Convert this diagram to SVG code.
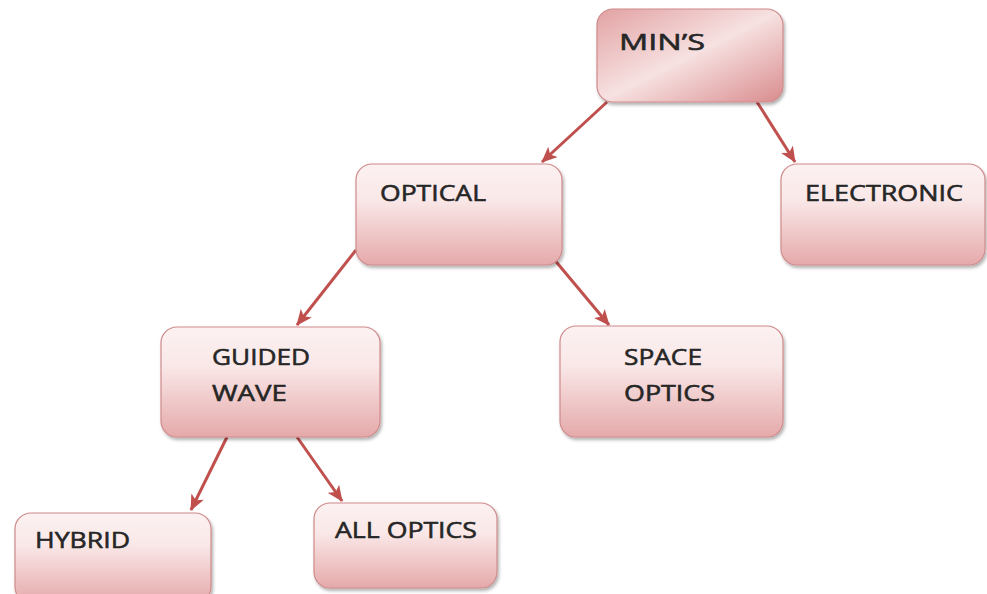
<svg xmlns="http://www.w3.org/2000/svg" width="987" height="594" viewBox="0 0 987 594">
  <style>
    .box { stroke: #cf8a8b; stroke-width: 1.2; fill: url(#boxFill); filter: url(#shadow); }
    .root { stroke: #cf8a8b; stroke-width: 1.2; fill: url(#rootFill); filter: url(#shadow); }
    .label { font-family: "Open Sans", "Liberation Sans", sans-serif; font-size: 22.5px; font-weight: 400; fill: #262626; stroke: #262626; stroke-width: 0.55; }
    .edge { stroke: #c0504d; stroke-width: 3; fill: none; marker-end: url(#arrow); }
  </style>
  <defs>
    <linearGradient id="boxFill" x1="0" y1="0" x2="0" y2="1">
      <stop offset="0" stop-color="#fcf1f1"/>
      <stop offset="0.35" stop-color="#fae8e8"/>
      <stop offset="1" stop-color="#e5a9aa"/>
    </linearGradient>
    <linearGradient id="rootFill" x1="0" y1="0" x2="1" y2="1">
      <stop offset="0" stop-color="#e2a2a3"/>
      <stop offset="0.5" stop-color="#f7e1e1"/>
      <stop offset="1" stop-color="#d98c8e"/>
    </linearGradient>
    <filter id="shadow" x="-10%" y="-10%" width="125%" height="130%">
      <feDropShadow dx="1.5" dy="2.5" stdDeviation="1.8" flood-color="#000" flood-opacity="0.3"/>
    </filter>
    <marker id="arrow" markerUnits="userSpaceOnUse" markerWidth="16" markerHeight="14" viewBox="0 0 16 14" refX="15" refY="7" orient="auto">
      <path d="M0,0 L16,7 L0,14 L4,7 Z" fill="#c0504d"/>
    </marker>
  </defs>

  <g id="connectors">
    <line class="edge" x1="607" y1="102" x2="542" y2="162"/>
    <line class="edge" x1="757" y1="102" x2="795" y2="162"/>
    <line class="edge" x1="356" y1="250" x2="297" y2="325"/>
    <line class="edge" x1="553" y1="258" x2="609" y2="325"/>
    <line class="edge" x1="227" y1="437" x2="191" y2="510"/>
    <line class="edge" x1="297" y1="437" x2="342" y2="501"/>
  </g>

  <g id="mins">
    <rect class="root" x="597" y="9" width="186" height="93" rx="16"/>
    <text class="label" x="619" y="50" textLength="86" lengthAdjust="spacingAndGlyphs">MIN’S</text>
  </g>
  <g id="optical">
    <rect class="box" x="356" y="164" width="206" height="101" rx="16"/>
    <text class="label" x="380" y="201" textLength="106" lengthAdjust="spacingAndGlyphs">OPTICAL</text>
  </g>
  <g id="electronic">
    <rect class="box" x="781" y="164" width="204" height="101" rx="16"/>
    <text class="label" x="805" y="201" textLength="158" lengthAdjust="spacingAndGlyphs">ELECTRONIC</text>
  </g>
  <g id="guided-wave">
    <rect class="box" x="161" y="327" width="219" height="110" rx="16"/>
    <text class="label" x="212" y="365" textLength="98" lengthAdjust="spacingAndGlyphs">GUIDED</text>
    <text class="label" x="212" y="401" textLength="75" lengthAdjust="spacingAndGlyphs">WAVE</text>
  </g>
  <g id="space-optics">
    <rect class="box" x="560" y="326" width="223" height="111" rx="16"/>
    <text class="label" x="624" y="365" textLength="78" lengthAdjust="spacingAndGlyphs">SPACE</text>
    <text class="label" x="624" y="401" textLength="91" lengthAdjust="spacingAndGlyphs">OPTICS</text>
  </g>
  <g id="hybrid">
    <rect class="box" x="15" y="513" width="196" height="90" rx="16"/>
    <text class="label" x="35" y="548" textLength="95" lengthAdjust="spacingAndGlyphs">HYBRID</text>
  </g>
  <g id="all-optics">
    <rect class="box" x="314" y="503" width="183" height="85" rx="16"/>
    <text class="label" x="335" y="538" textLength="142" lengthAdjust="spacingAndGlyphs">ALL OPTICS</text>
  </g>
</svg>
